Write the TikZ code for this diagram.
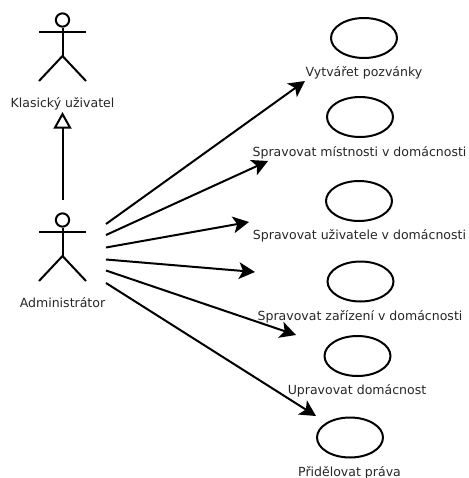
\documentclass[tikz,border=0pt]{standalone}
\usepackage{fontspec}
\setmainfont{DejaVu Sans}
\usetikzlibrary{arrows.meta,shapes.geometric}
\tikzset{
  ln/.style={line width=1.5pt,black,line cap=butt},
  uc/.style={ellipse,draw=black,line width=1.5pt,minimum width=49.5pt,minimum height=30pt,inner sep=0pt},
  lbl/.style={font=\fontsize{9.4pt}{11pt}\selectfont,text=black!85,inner sep=0pt,anchor=center,yshift=-1.1pt},
  assoc/.style={ln,-{Stealth[length=12pt,width=12.5pt,inset=3pt]}},
  gen/.style={ln,-{Triangle[open,length=12.5pt,width=13.5pt,line width=1.5pt]}},
  head/.style={circle,draw=black,line width=1.5pt,minimum size=10pt,inner sep=0pt},
}
\begin{document}
\begin{tikzpicture}[x=0.75pt,y=-0.75pt]
\useasboundingbox (0,0) rectangle (468,478);
% actors
\node[head] (headA) at (62.5,20) {};
\coordinate (armAl) at (39,32);
\coordinate (armAr) at (86,32);
\coordinate (hipA) at (62.5,56);
\coordinate (legAl) at (39,81);
\coordinate (legAr) at (86,81);
\draw[ln] (headA.south) -- (hipA);
\draw[ln] (armAl) -- (armAr);
\draw[ln] (legAl) -- (hipA) -- (legAr);
\node[lbl] (userL) at (62.5,102) {Klasický uživatel};
\node[head] (headB) at (62.5,220) {};
\coordinate (armBl) at (39,232);
\coordinate (armBr) at (86,232);
\coordinate (hipB) at (62.5,256);
\coordinate (legBl) at (39,281);
\coordinate (legBr) at (86,281);
\draw[ln] (headB.south) -- (hipB);
\draw[ln] (armBl) -- (armBr);
\draw[ln] (legBl) -- (hipB) -- (legBr);
\node[lbl] (adminL) at (62.5,301) {Administrátor};
% use cases
\node[uc] (e1) at (364,38) {};
\node[uc] (e2) at (360,117) {};
\node[uc] (e3) at (359,201) {};
\node[uc] (e4) at (360.5,281.5) {};
\node[uc] (e5) at (357.5,356) {};
\node[uc] (e6) at (350,437.5) {};
\node[lbl] (l1) at (364,71) {Vytvářet pozvánky};
\node[lbl] (l2) at (359.5,151) {Spravovat místnosti v domácnosti};
\node[lbl] (l3) at (359.5,234.5) {Spravovat uživatele v domácnosti};
\node[lbl] (l4) at (360,315) {Spravovat zařízení v domácnosti};
\node[lbl] (l5) at (357,389) {Upravovat domácnost};
\node[lbl] (l6) at (349.5,471) {Přidělovat práva};
% connector ends
\coordinate (g0) at (62.5,200);
\coordinate (g1) at (62.5,112);
\coordinate (s1) at (106,224); \coordinate (t1) at (305,81);
\coordinate (s2) at (106,235); \coordinate (t2) at (268,161);
\coordinate (s3) at (106,247.5); \coordinate (t3) at (249,222);
\coordinate (s4) at (106,259.5); \coordinate (t4) at (255,272);
\coordinate (s5) at (106,270.5); \coordinate (t5) at (296,335);
\coordinate (s6) at (106,283); \coordinate (t6) at (316,416);
\draw[gen] (g0) -- (g1);
\foreach \i in {1,...,6} \draw[assoc] (s\i) -- (t\i);
\end{tikzpicture}
\end{document}
